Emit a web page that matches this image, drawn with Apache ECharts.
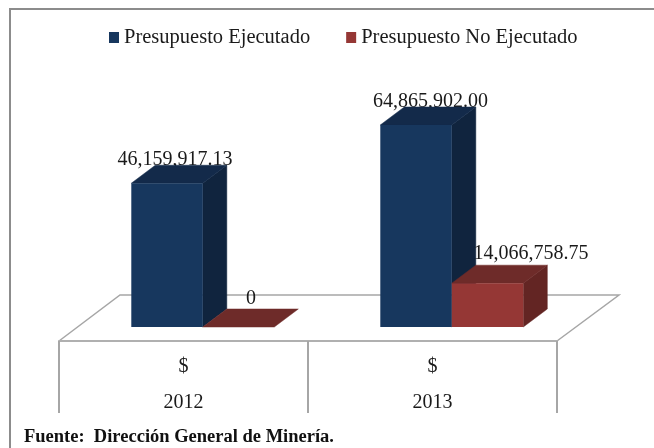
<!DOCTYPE html>
<html>
<head>
<meta charset="utf-8">
<style>
  html, body { margin: 0; padding: 0; background: #fff; }
  #chart { width: 654px; height: 448px; }
</style>
<script src="https://cdn.jsdelivr.net/npm/echarts@6/dist/echarts.min.js"></script>
</head>
<body>
<div id="chart"></div>
<script>
const years = ['2012', '2013'];
const ejecutado = [46159917.13, 64865902.00];
const noEjecutado = [0, 14066758.75];

const FONT = '"Liberation Serif", serif';
const DEPTH_X = 24;
const DEPTH_Y = 18;
const BAR_SHARE = 71.5 / 249;
const BAR_SHIFT = 19.3; // the bars sit right of the band centre because of the 3d floor

const money = (v) => (v === 0 ? '0' : v.toLocaleString('en-US', { minimumFractionDigits: 2 }));

function bar3d(colors, side, labelDx, labelDy) {
  return function (params, api) {
    const i = api.value(0);
    const base = api.coord([i, 0]);
    const top = api.coord([i, api.value(1)]);
    const w = api.size([1, 0])[0] * BAR_SHARE;
    const x0 = base[0] + BAR_SHIFT + (side < 0 ? -w : 0);
    const x1 = x0 + w;
    const yb = base[1];
    const yt = top[1];
    const children = [{
      // text goes first, the bar top clips it a little like in the original
      type: 'text',
      style: {
        text: money(api.value(1)),
        x: (x0 + x1) / 2 + labelDx[i],
        y: yt - DEPTH_Y + labelDy[i],
        align: 'center',
        verticalAlign: 'middle',
        font: '20px ' + FONT,
        fill: '#1a1a1a',
      },
    }];
    if (yb - yt > 0.5) {
      children.push({
        type: 'polygon',
        shape: { points: [[x1, yb], [x1 + DEPTH_X, yb - DEPTH_Y], [x1 + DEPTH_X, yt - DEPTH_Y], [x1, yt]] },
        style: { fill: colors.side, stroke: colors.side, lineWidth: 0.5 },
      });
    }
    children.push({
      type: 'polygon',
      shape: { points: [[x0, yt], [x0 + DEPTH_X, yt - DEPTH_Y], [x1 + DEPTH_X, yt - DEPTH_Y], [x1, yt]] },
      style: { fill: colors.top, stroke: colors.top, lineWidth: 0.5 },
    });
    if (yb - yt > 0.5) {
      children.push({
        type: 'rect',
        shape: { x: x0, y: yt, width: w, height: yb - yt },
        style: { fill: colors.front },
      });
    }
    return { type: 'group', children: children };
  };
}

const chart = echarts.init(document.getElementById('chart'));
chart.setOption({
  animation: false,
  backgroundColor: '#fff',
  title: {
    text: 'Fuente:  Dirección General de Minería.',
    left: 24,
    top: 428,
    padding: 0,
    textStyle: { fontFamily: FONT, fontSize: 18.5, fontWeight: 'bold', color: '#111' },
  },
  legend: {
    left: 109,
    top: 27,
    padding: 0,
    itemWidth: 10,
    itemHeight: 11,
    itemGap: 36,
    icon: 'rect',
    selectedMode: false,
    textStyle: { fontFamily: FONT, fontSize: 20.5, color: '#1a1a1a' },
    data: ['Presupuesto Ejecutado', 'Presupuesto No Ejecutado'],
  },
  grid: { left: 59, right: 97, top: 109, bottom: 107 },
  xAxis: {
    type: 'category',
    data: years,
    axisLine: { onZero: false, lineStyle: { color: '#b0b0b0', width: 2 } },
    axisTick: { show: true, length: 72, lineStyle: { color: '#a6a6a6', width: 2 } },
    axisLabel: {
      margin: 8,
      fontFamily: FONT,
      fontSize: 20,
      lineHeight: 36,
      color: '#1a1a1a',
      formatter: (v) => '$\n' + v,
    },
  },
  yAxis: { type: 'value', show: false, min: -4500000, max: 70000000 },
  graphic: [
    {
      // chart frame
      type: 'polyline',
      z: 0,
      shape: { points: [[10, 448], [10, 9], [654, 9]] },
      style: { fill: null, stroke: '#8c8c8c', lineWidth: 2 },
    },
    {
      // floor
      type: 'polyline',
      z: 0,
      shape: { points: [[59, 341], [120, 295], [619, 295], [557, 341]] },
      style: { fill: null, stroke: '#a6a6a6', lineWidth: 1.5 },
    },
  ],
  series: [
    {
      name: 'Presupuesto Ejecutado',
      type: 'custom',
      z: 3,
      clip: false,
      itemStyle: { color: '#17375e' },
      encode: { x: 0, y: 1 },
      data: ejecutado.map((v, i) => [i, v]),
      renderItem: bar3d({ front: '#17375e', top: '#132a4a', side: '#10243e' }, -1, [8, 14.5], [-5, -5]),
    },
    {
      name: 'Presupuesto No Ejecutado',
      type: 'custom',
      z: 4,
      clip: false,
      itemStyle: { color: '#953735' },
      encode: { x: 0, y: 1 },
      data: noEjecutado.map((v, i) => [i, v]),
      renderItem: bar3d({ front: '#953735', top: '#6e2b29', side: '#632523' }, 1, [12.5, 43.5], [-10, -11]),
    },
  ],
});
</script>
</body>
</html>
